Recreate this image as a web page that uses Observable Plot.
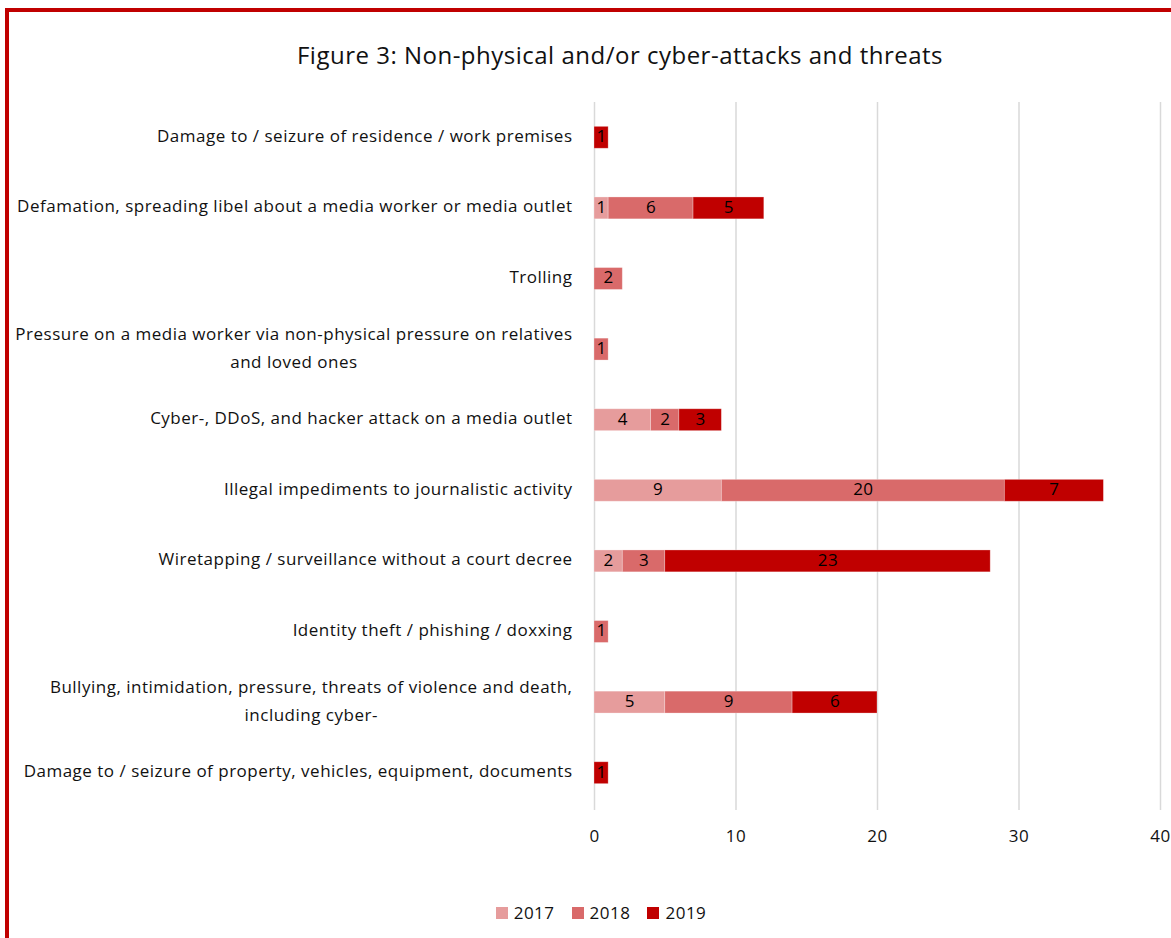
<!DOCTYPE html>
<html><head><meta charset="utf-8">
<script src="https://cdn.jsdelivr.net/npm/d3@7"></script>
<script src="https://cdn.jsdelivr.net/npm/@observablehq/plot@0.6"></script>
<style>
html,body{margin:0;padding:0;background:#fff;}
body{width:1171px;height:938px;overflow:hidden;position:relative;font-family:"Open Sans",Lato,sans-serif;color:#111;}
#frame{position:absolute;left:5px;top:8px;width:1300px;height:1100px;border:4px solid #c00000;box-sizing:border-box;}
#title{position:absolute;left:0;top:39px;width:1240px;text-align:center;font-size:24px;letter-spacing:0.5px;line-height:32px;}
#chart{position:absolute;left:0;top:90px;}
#chart svg text{letter-spacing:0.5px;}
#legend{position:absolute;left:0;top:902px;width:1202px;display:flex;justify-content:center;gap:17px;font-size:17px;letter-spacing:0.5px;line-height:22px;}
#legend .item{display:flex;align-items:center;gap:6px;}
#legend .sw{width:12px;height:12px;display:inline-block;}
</style>
</head><body>
<div id="frame"></div>
<div id="title">Figure 3: Non-physical and/or cyber-attacks and threats</div>
<div id="chart"></div>
<div id="legend"></div>
<script>
const categories = [
  "Damage to / seizure of residence / work premises",
  "Defamation, spreading libel about a media worker or media outlet",
  "Trolling",
  "Pressure on a media worker via non-physical pressure on relatives\nand loved ones",
  "Cyber-, DDoS, and hacker attack on a media outlet",
  "Illegal impediments to journalistic activity",
  "Wiretapping / surveillance without a court decree",
  "Identity theft / phishing / doxxing",
  "Bullying, intimidation, pressure, threats of violence and death,\nincluding cyber-",
  "Damage to / seizure of property, vehicles, equipment, documents"
];
const years = ["2017", "2018", "2019"];
const values2017 = [0, 1, 0, 0, 4, 9, 2, 0, 5, 0];
const values2018 = [0, 6, 2, 1, 2, 20, 3, 1, 9, 0];
const values2019 = [1, 5, 0, 0, 3, 7, 23, 0, 6, 1];
const xTicks = [0, 10, 20, 30, 40];
const colors = ["#e69c9c", "#d96a6a", "#c00000"];

const series = [values2017, values2018, values2019];
const data = [];
years.forEach((yr, i) => {
  categories.forEach((c, j) => {
    if (series[i][j] > 0) data.push({category: c, year: yr, value: series[i][j]});
  });
});

const FONT = "'Open Sans', Lato, sans-serif";
const chart = Plot.plot({
  width: 1171,
  height: 770,
  marginLeft: 594,
  marginRight: 11,
  marginTop: 12,
  marginBottom: 52,
  style: {fontFamily: FONT, fontSize: "17px", color: "#111", background: "transparent"},
  x: {domain: [0, 40], ticks: xTicks, label: null},
  y: {domain: categories, paddingInner: 0.69, paddingOuter: 0.345, round: false, label: null},
  color: {domain: years, range: colors},
  marks: [
    Plot.ruleX(xTicks, {stroke: "#d9d9d9", strokeWidth: 1.5, insetBottom: -2}),
    Plot.barX(data, Plot.stackX({x: "value", y: "category", fill: "year", z: "year", order: years, stroke: "#fff", strokeOpacity: 0.35, strokeWidth: 0.8})),
    Plot.text(data, Plot.stackX({x: "value", y: "category", z: "year", order: years, text: d => String(d.value), fill: "#000", fontSize: 17, dy: -1})),
    Plot.axisX({ticks: xTicks, tickSize: 0, tickPadding: 21, fontSize: 17, fill: "#111", label: null}),
    Plot.axisY({tickSize: 0, tickPadding: 22, fontSize: 17, fill: "#111", lineHeight: 1.65, textAnchor: "end", dy: -5, label: null})
  ]
});
document.getElementById("chart").appendChild(chart);

// center multi-line tick labels within their block
chart.querySelectorAll('g[aria-label="y-axis tick label"] text').forEach(t => {
  const spans = t.querySelectorAll("tspan");
  if (spans.length > 1) {
    let maxW = 0;
    spans.forEach(s => { maxW = Math.max(maxW, s.getComputedTextLength()); });
    t.setAttribute("text-anchor", "middle");
    spans.forEach(s => s.setAttribute("x", -maxW / 2));
  }
});

const legend = document.getElementById("legend");
years.forEach((yr, i) => {
  const it = document.createElement("div");
  it.className = "item";
  const sw = document.createElement("span");
  sw.className = "sw";
  sw.style.background = colors[i];
  const lb = document.createElement("span");
  lb.textContent = yr;
  it.appendChild(sw); it.appendChild(lb);
  legend.appendChild(it);
});
</script>
</body></html>
